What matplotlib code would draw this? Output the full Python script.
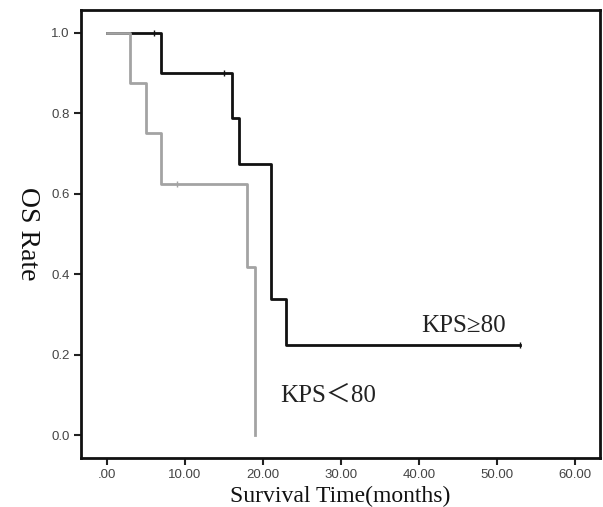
import matplotlib.pyplot as plt

# KPS >= 80 (black curve)
hi_time = [0, 7, 16, 17, 21, 23, 53]
hi_surv = [1.0, 0.9, 0.7875, 0.675, 0.3375, 0.225, 0.225]
hi_cens_t = [6, 15, 53]
hi_cens_s = [1.0, 0.9, 0.225]

# KPS < 80 (grey curve)
lo_time = [0, 3, 5, 7, 18, 19]
lo_surv = [1.0, 0.875, 0.75, 0.625, 0.4167, 0.0]
lo_cens_t = [9]
lo_cens_s = [0.625]

xticks = [0, 10, 20, 30, 40, 50, 60]
xlabels = ['.00', '10.00', '20.00', '30.00', '40.00', '50.00', '60.00']
yticks = [0.0, 0.2, 0.4, 0.6, 0.8, 1.0]

fig = plt.figure(figsize=(6.03, 5.07), dpi=100)
ax = fig.add_axes([81 / 603, 1 - 458 / 507, 519 / 603, 448 / 507])

ax.step(hi_time, hi_surv, where='post', color='#111111', lw=2)
ax.plot(hi_cens_t, hi_cens_s, ls='none', marker='|', ms=5, mew=1, color='#111111')
ax.step(lo_time, lo_surv, where='post', color='#a3a3a3', lw=2)
ax.plot(lo_cens_t, lo_cens_s, ls='none', marker='|', ms=5, mew=1, color='#a3a3a3')

ax.set_xlim(-3.3, 63.2)
ax.set_ylim(-0.057, 1.057)
ax.set_xticks(xticks)
ax.set_xticklabels(xlabels)
ax.set_yticks(yticks)
ax.set_yticklabels(['%.1f' % v for v in yticks])
ax.tick_params(direction='out', length=5, width=1.5, labelsize=9.5, labelcolor='#444444',
               colors='#222222', pad=3)
for lab in ax.get_xticklabels() + ax.get_yticklabels():
    lab.set_family('Liberation Sans')
for s in ax.spines.values():
    s.set_linewidth(2)
    s.set_color('#111111')

ax.text(40.3, 0.272, 'KPS≥80', fontsize=18, family='Liberation Serif', va='center', color='#222222')
ax.text(22.2, 0.098, 'KPS＜80', fontsize=18, family=['Liberation Serif', 'Noto Sans CJK SC'],
        va='center', color='#222222')

ax.set_xlabel('Survival Time(months)', fontsize=17, family='Liberation Serif',
              color='#111111', va='center')
ax.xaxis.set_label_coords(0.5, -38 / 448)
ax.set_ylabel('OS Rate', fontsize=20, family='Liberation Serif', rotation=270,
              va='center', color='#111111')
ax.yaxis.set_label_coords(-54 / 519, 0.5)

fig.savefig('out.png', dpi=100)
